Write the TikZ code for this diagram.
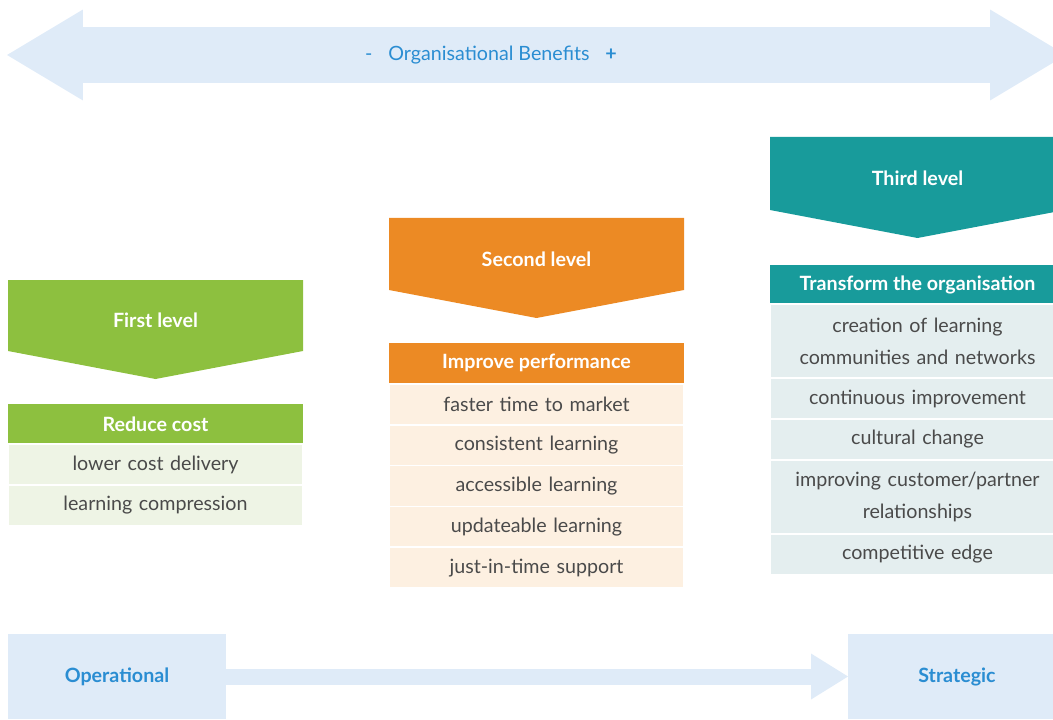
\documentclass[tikz,border=0pt]{standalone}
\usepackage{fontspec}
\setmainfont{Lato}
\usetikzlibrary{positioning,arrows.meta}

\definecolor{lightblue}{HTML}{DFEBF8}
\definecolor{benefit}{HTML}{2A8DD2}
\definecolor{lvlgreen}{HTML}{8DC03F}
\definecolor{rowgreen}{HTML}{EEF4E5}
\definecolor{lvlorange}{HTML}{EC8A24}
\definecolor{roworange}{HTML}{FDF0E1}
\definecolor{lvlteal}{HTML}{189B9B}
\definecolor{rowteal}{HTML}{E4EEEF}
\definecolor{rowtext}{HTML}{4A4A4A}

\def\fs{\fontsize{11.2}{18}\selectfont}

\begin{document}
\begin{tikzpicture}[x=0.02cm, y=-0.02cm,
  every node/.style={font=\fs, inner sep=0pt, outer sep=0pt},
  lvltitle/.style={text=white, font=\fs\bfseries},
  lvlhead/.style={fill=#1, text=white, font=\fs\bfseries, minimum width=5.9cm, minimum height=0.79cm},
  lvlrow/.style={fill=#1, draw=white, line width=1pt, text=rowtext, text width=5.9cm, align=center, minimum height=0.816cm},
  tworow/.style={lvlrow=#1, minimum height=1.48cm},
  axisbox/.style={fill=lightblue, text=benefit, font=\fs\bfseries, minimum width=4.36cm, minimum height=1.7cm},
  benefitarrow/.style={draw=lightblue, line width=1.12cm, {Triangle[length=1.52cm, width=1.82cm, line width=0pt]}-{Triangle[length=1.52cm, width=1.82cm, line width=0pt]}},
  axisarrow/.style={draw=lightblue, line width=0.32cm, -{Triangle[length=0.74cm, width=0.92cm, line width=0pt]}}
]
\useasboundingbox (0,0) rectangle (1053,719);

% benefits scale along the top
\coordinate (ltip) at (7,55);
\coordinate (rtip) at (1066,55);
\draw[benefitarrow] (ltip) -- (rtip);
\node[text=benefit] (benefits) at (491,55) {-\hspace{9pt}Organisational Benefits\hspace{9pt}\textbf{+}};

% first level
\fill[lvlgreen] (8,280) -- (303,280) -- (303,351) -- (155.5,379) -- (8,351) -- cycle;
\node[lvltitle] (first) at (155.5,320) {First level};
\node[lvlhead=lvlgreen] (cost) at (155.5,424) {Reduce cost};
\foreach \t [count=\i] in {lower cost delivery, learning compression}
  \node[lvlrow=rowgreen] (cost\i) at (155.5,423.5+41*\i) {\t};

% second level
\fill[lvlorange] (389,218) -- (684,218) -- (684,290) -- (536.5,318) -- (389,290) -- cycle;
\node[lvltitle] (second) at (536.5,259) {Second level};
\node[lvlhead=lvlorange] (perf) at (536.5,363) {Improve performance};
\foreach \t [count=\i] in {faster time to market, consistent learning, accessible learning,
    updateable learning, just-in-time support}
  \node[lvlrow=roworange] (perf\i) at (536.5,363.6+40.8*\i) {\t};

% third level
\fill[lvlteal] (770,137) -- (1065,137) -- (1065,210) -- (917.5,238) -- (770,210) -- cycle;
\node[lvltitle] (third) at (917.5,178) {Third level};
\node[lvlhead=lvlteal] (trans) at (917.5,284.5) {Transform the organisation};
\node[tworow=rowteal, below=0pt of trans] (trans1) {creation of learning\\communities and networks};
\node[lvlrow=rowteal, below=0pt of trans1] (trans2) {continuous improvement};
\node[lvlrow=rowteal, below=0pt of trans2] (trans3) {cultural change};
\node[tworow=rowteal, below=0pt of trans3] (trans4) {improving customer/partner\\relationships};
\node[lvlrow=rowteal, below=0pt of trans4] (trans5) {competitive edge};

% operational -> strategic
\node[axisbox] (oper) at (117,676.5) {Operational};
\node[axisbox] (strat) at (957,676.5) {Strategic};
\draw[axisarrow] (oper) -- (strat);
\end{tikzpicture}
\end{document}
